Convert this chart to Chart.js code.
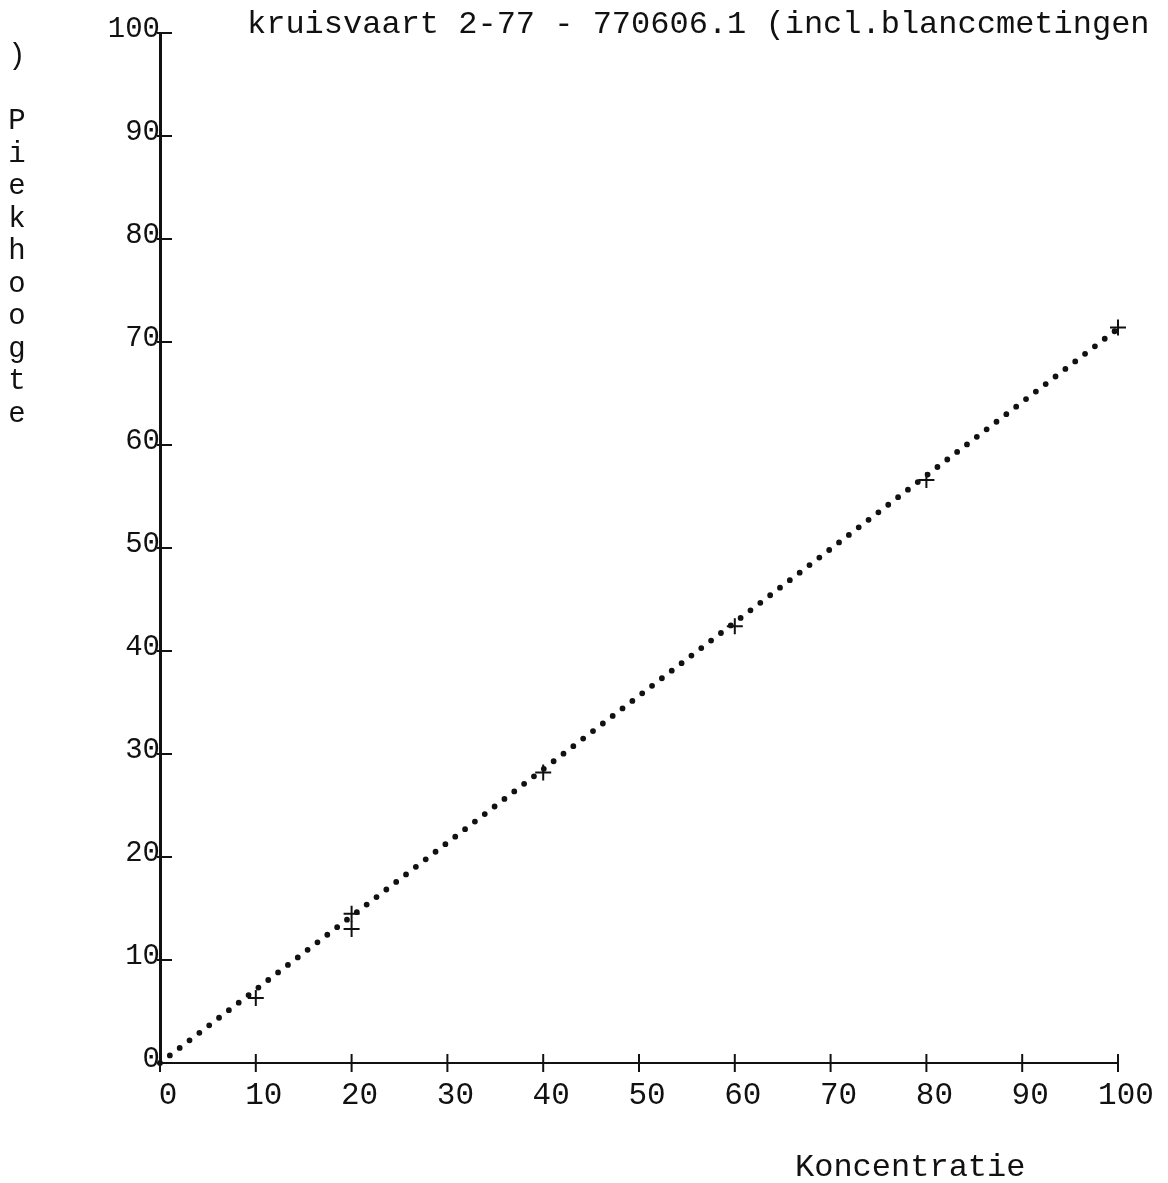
<!DOCTYPE html>
<html>
<head>
<meta charset="utf-8">
<script src="https://cdn.jsdelivr.net/npm/chart.js@4/dist/chart.umd.min.js"></script>
<style>
  body { margin: 0; background: #fff; }
  #wrap { width: 1168px; height: 1183px; }
</style>
</head>
<body>
<div id="wrap"><canvas id="grafiek" width="1168" height="1183"></canvas></div>
<script>
const titel = 'kruisvaart 2-77 - 770606.1 (incl.blanccmetingen'
const xTitel = 'Koncentratie'
const yTitel = [')', '', 'P', 'i', 'e', 'k', 'h', 'o', 'o', 'g', 't', 'e']
const tickWaarden = [0, 10, 20, 30, 40, 50, 60, 70, 80, 90, 100]

const koncentratie = [10, 20, 20, 40, 60, 80, 100]
const piekhoogte = [6.3, 14.5, 13.0, 28.2, 42.4, 56.6, 71.4]

const lijnX = [0, 100]
const lijnY = [0, 71.3]

const inkt = '#111'
const mono = '"Liberation Mono", "DejaVu Sans Mono", monospace'

let metingen = koncentratie.map((k, i) => ({ x: k, y: piekhoogte[i] }))
let lijn = lijnX.map((k, i) => ({ x: k, y: lijnY[i] }))

// kruisjes op de assen + losse teksten
const versiering = {
    id: 'versiering',
    afterDraw(chart) {
        const ctx = chart.ctx
        const area = chart.chartArea
        const sx = chart.scales.x
        const sy = chart.scales.y
        ctx.save()
        ctx.strokeStyle = inkt
        ctx.lineWidth = 2
        tickWaarden.forEach(v => {
            let py = sy.getPixelForValue(v)
            ctx.beginPath()
            ctx.moveTo(area.left - 3, py)
            ctx.lineTo(area.left + 12, py)
            ctx.stroke()
            let px = sx.getPixelForValue(v)
            ctx.beginPath()
            ctx.moveTo(px, area.bottom - 9)
            ctx.lineTo(px, area.bottom + 9)
            ctx.stroke()
        })
        ctx.fillStyle = inkt
        ctx.font = '32px ' + mono
        ctx.textBaseline = 'alphabetic'
        ctx.textAlign = 'left'
        ctx.fillText(titel, area.left + 87, 33)
        ctx.fillText(xTitel, 795, 1176)
        ctx.font = '29px ' + mono
        ctx.textAlign = 'center'
        yTitel.forEach((c, i) => {
            ctx.fillText(c, 17, 64 + i * 32.5)
        })
        ctx.restore()
    }
}

new Chart(document.querySelector('#grafiek'), {
    type: 'scatter',
    data: {
        datasets: [{
            type: 'line',
            data: lijn,
            borderColor: inkt,
            borderWidth: 5.8,
            borderDash: [0, 12.4],
            borderCapStyle: 'round',
            pointRadius: 0,
            fill: false,
            clip: false
        }, {
            data: metingen,
            pointStyle: 'cross',
            pointRadius: 8,
            pointBorderWidth: 2,
            borderColor: inkt,
            backgroundColor: inkt,
            clip: false
        }]
    },
    options: {
        responsive: false,
        animation: false,
        layout: { padding: { left: 50, right: 50, top: 33, bottom: 0 } },
        plugins: {
            legend: { display: false },
            tooltip: { enabled: false }
        },
        scales: {
            x: {
                type: 'linear',
                min: 0,
                max: 100,
                afterFit: scale => { scale.height = 120 },
                afterBuildTicks: scale => { scale.ticks = tickWaarden.map(v => ({ value: v })) },
                grid: { display: true, drawOnChartArea: false, drawTicks: false },
                border: { color: inkt, width: 2 },
                ticks: { color: inkt, font: { family: mono, size: 31 }, padding: 14, labelOffset: 8, maxRotation: 0 }
            },
            y: {
                min: 0,
                max: 100,
                afterFit: scale => { scale.width = 110 },
                afterBuildTicks: scale => { scale.ticks = tickWaarden.map(v => ({ value: v })) },
                grid: { display: true, drawOnChartArea: false, drawTicks: false },
                border: { color: inkt, width: 3 },
                ticks: { color: inkt, font: { family: mono, size: 29 }, padding: 0, labelOffset: -4 }
            }
        }
    },
    plugins: [versiering]
})
</script>
</body>
</html>
